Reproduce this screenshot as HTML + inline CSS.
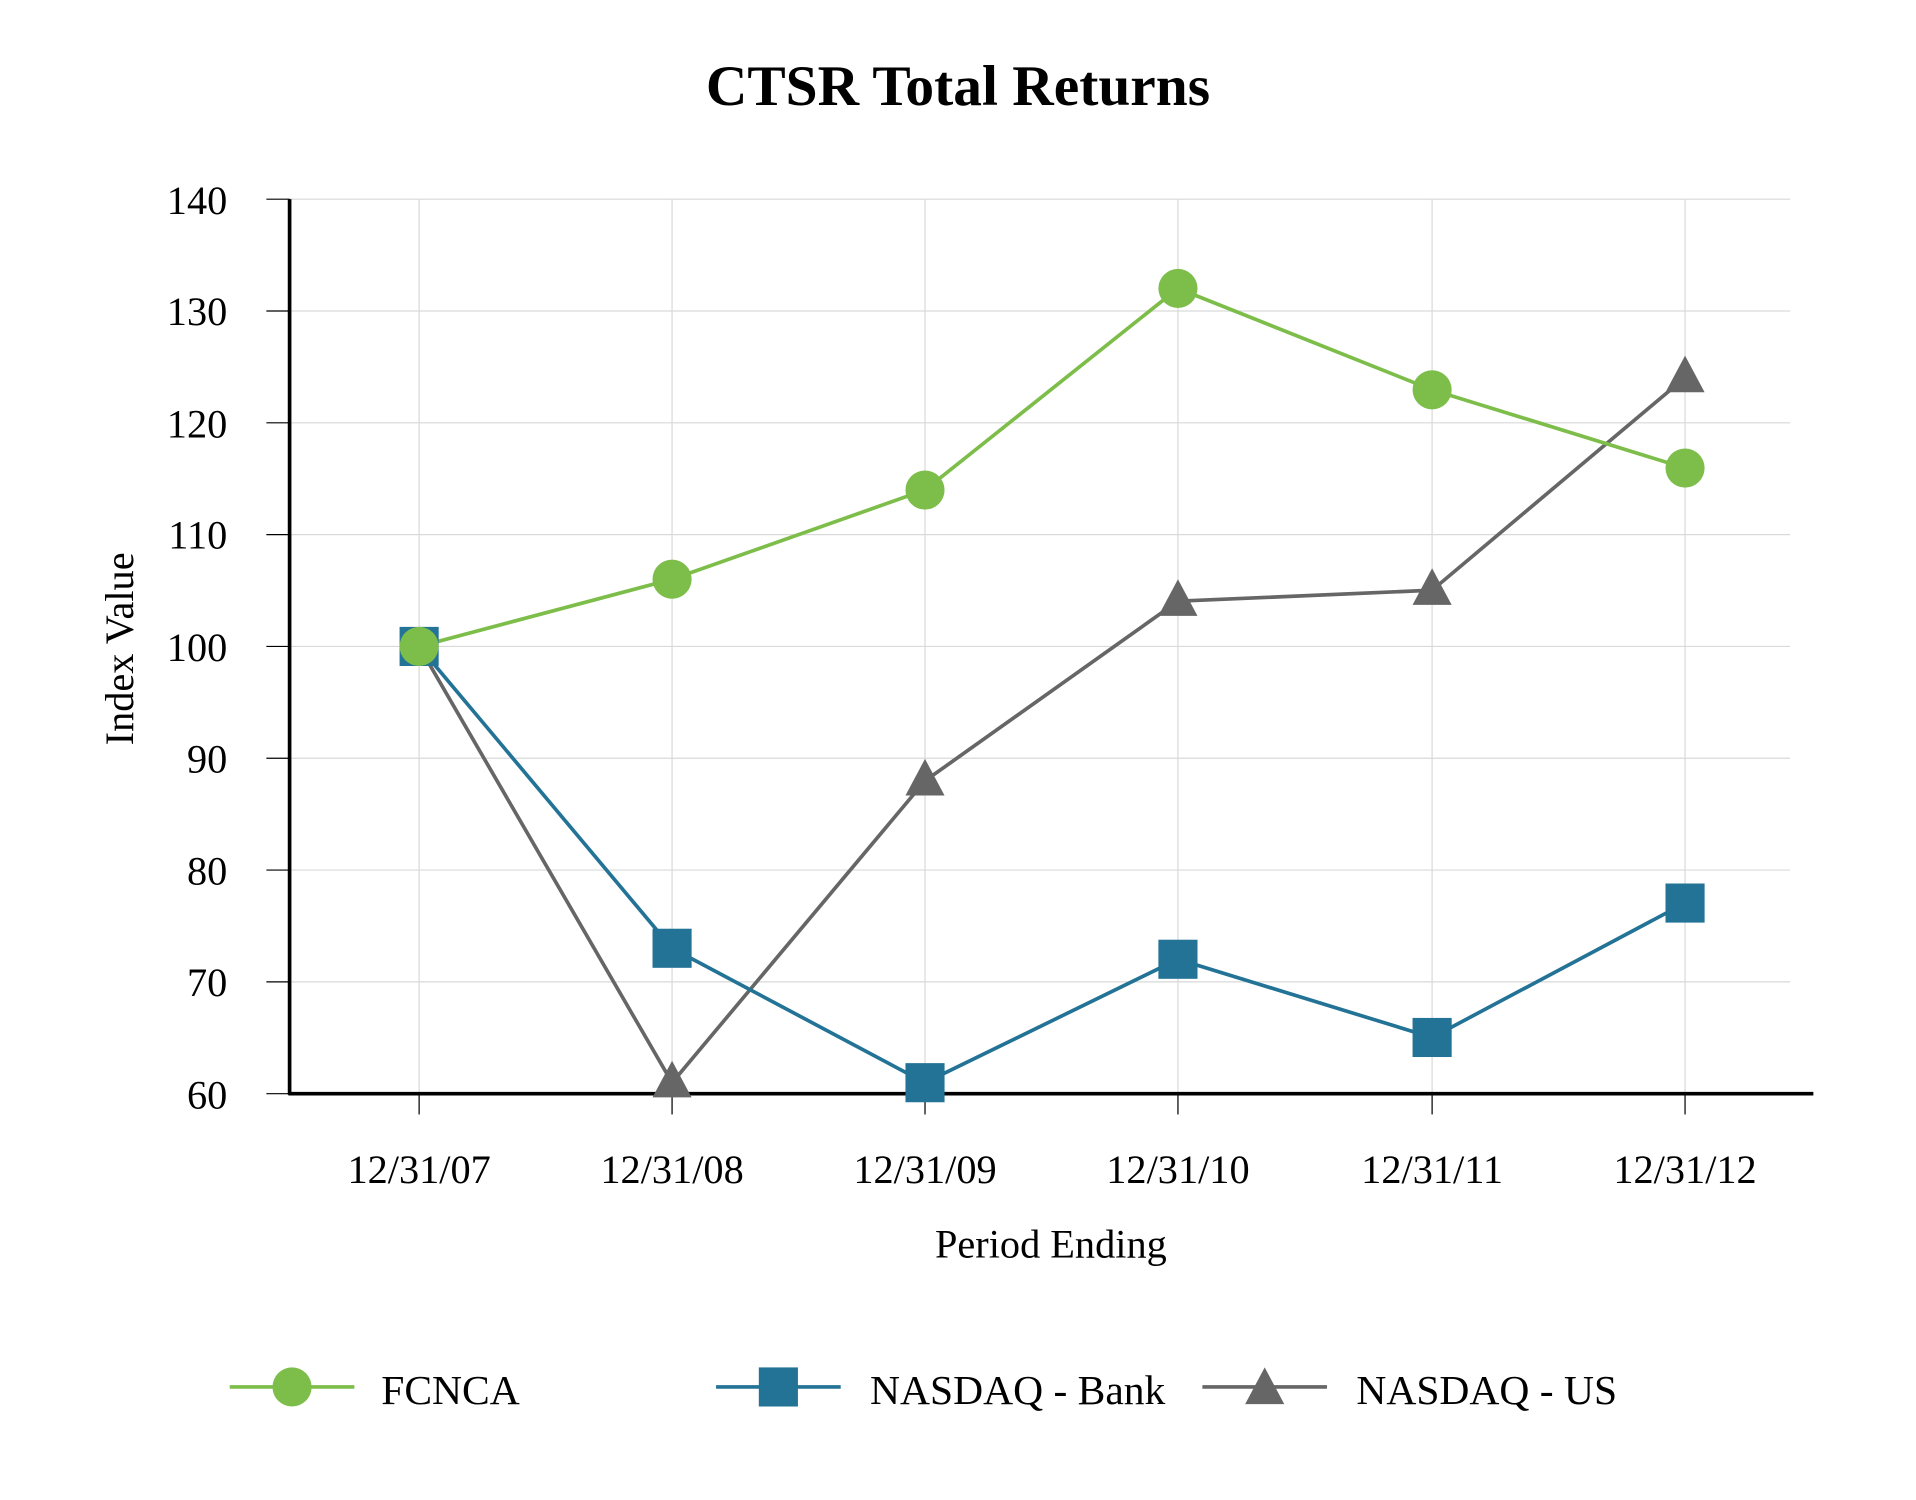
<!DOCTYPE html>
<html><head><meta charset="utf-8"><style>
html,body{margin:0;padding:0;background:#fff;}
svg{display:block;}
text{font-family:"Liberation Serif",serif;fill:#000;}
</style></head><body>
<svg width="1916" height="1500" viewBox="0 0 1568 1227.5" preserveAspectRatio="none" xmlns="http://www.w3.org/2000/svg">
<text x="784" y="86" text-anchor="middle" font-size="47" font-weight="bold">CTSR Total Returns</text>
<g stroke="#d9d9d9" stroke-width="1">
<line x1="237" y1="163" x2="1465" y2="163"/>
<line x1="237" y1="254.5" x2="1465" y2="254.5"/>
<line x1="237" y1="346" x2="1465" y2="346"/>
<line x1="237" y1="437.5" x2="1465" y2="437.5"/>
<line x1="237" y1="529" x2="1465" y2="529"/>
<line x1="237" y1="620.5" x2="1465" y2="620.5"/>
<line x1="237" y1="712" x2="1465" y2="712"/>
<line x1="237" y1="803.5" x2="1465" y2="803.5"/>
<line x1="343" y1="163" x2="343" y2="895"/>
<line x1="550" y1="163" x2="550" y2="895"/>
<line x1="757" y1="163" x2="757" y2="895"/>
<line x1="964" y1="163" x2="964" y2="895"/>
<line x1="1172" y1="163" x2="1172" y2="895"/>
<line x1="1379" y1="163" x2="1379" y2="895"/>
</g>
<g stroke="#000" stroke-width="1">
<line x1="218" y1="163" x2="237" y2="163"/><line x1="218" y1="254.5" x2="237" y2="254.5"/>
<line x1="218" y1="346" x2="237" y2="346"/><line x1="218" y1="437.5" x2="237" y2="437.5"/>
<line x1="218" y1="529" x2="237" y2="529"/><line x1="218" y1="620.5" x2="237" y2="620.5"/>
<line x1="218" y1="712" x2="237" y2="712"/><line x1="218" y1="803.5" x2="237" y2="803.5"/>
<line x1="218" y1="895" x2="237" y2="895"/>
<line x1="343" y1="895" x2="343" y2="912"/><line x1="550" y1="895" x2="550" y2="912"/>
<line x1="757" y1="895" x2="757" y2="912"/><line x1="964" y1="895" x2="964" y2="912"/>
<line x1="1172" y1="895" x2="1172" y2="912"/><line x1="1379" y1="895" x2="1379" y2="912"/>
</g>
<line x1="237" y1="163" x2="237" y2="896" stroke="#000" stroke-width="3"/>
<line x1="236" y1="895" x2="1484" y2="895" stroke="#000" stroke-width="3"/>
<g font-size="33" text-anchor="end">
<text x="186" y="175">140</text><text x="186" y="266">130</text><text x="186" y="358">120</text>
<text x="186" y="449">110</text><text x="186" y="541">100</text><text x="186" y="632">90</text>
<text x="186" y="724">80</text><text x="186" y="815">70</text><text x="186" y="907">60</text>
</g>
<g font-size="33" text-anchor="middle">
<text x="343" y="968">12/31/07</text><text x="550" y="968">12/31/08</text><text x="757" y="968">12/31/09</text>
<text x="964" y="968">12/31/10</text><text x="1172" y="968">12/31/11</text><text x="1379" y="968">12/31/12</text>
<text x="860" y="1029">Period Ending</text>
<text transform="translate(109,531) rotate(-90)">Index Value</text>
</g>
<polyline fill="none" stroke="#666" stroke-width="3" points="343,529 550,886 757,639 964,492 1172,483 1379,309"/>
<polyline fill="none" stroke="#237396" stroke-width="3" points="343,529 550,776 757,886 964,785 1172,849 1379,739"/>
<polyline fill="none" stroke="#7dbd4a" stroke-width="3" points="343,529 550,474 757,401 964,236 1172,319 1379,383"/>
<g fill="#237396">
<rect x="327" y="513" width="32" height="32"/><rect x="534" y="760" width="32" height="32"/>
<rect x="741" y="870" width="32" height="32"/><rect x="948" y="769" width="32" height="32"/>
<rect x="1156" y="833" width="32" height="32"/><rect x="1363" y="723" width="32" height="32"/>
</g>
<g fill="#666">
<polygon points="550,868 566,898 534,898"/><polygon points="757,621 773,651 741,651"/>
<polygon points="964,474 980,504 948,504"/><polygon points="1172,465 1188,495 1156,495"/>
<polygon points="1379,291 1395,321 1363,321"/>
</g>
<g fill="#7dbd4a">
<circle cx="343" cy="529" r="16"/><circle cx="550" cy="474" r="16"/><circle cx="757" cy="401" r="16"/>
<circle cx="964" cy="236" r="16"/><circle cx="1172" cy="319" r="16"/><circle cx="1379" cy="383" r="16"/>
</g>
<line x1="188" y1="1135" x2="290" y2="1135" stroke="#7dbd4a" stroke-width="3"/>
<circle cx="239" cy="1135" r="16" fill="#7dbd4a"/>
<text x="312" y="1149" font-size="34">FCNCA</text>
<line x1="586" y1="1135" x2="688" y2="1135" stroke="#237396" stroke-width="3"/>
<rect x="621" y="1119" width="32" height="32" fill="#237396"/>
<text x="712" y="1149" font-size="34">NASDAQ - Bank</text>
<line x1="984" y1="1135" x2="1086" y2="1135" stroke="#666" stroke-width="3"/>
<polygon points="1035,1119 1051,1149 1019,1149" fill="#666"/>
<text x="1110" y="1149" font-size="34">NASDAQ - US</text>
</svg>
</body></html>
